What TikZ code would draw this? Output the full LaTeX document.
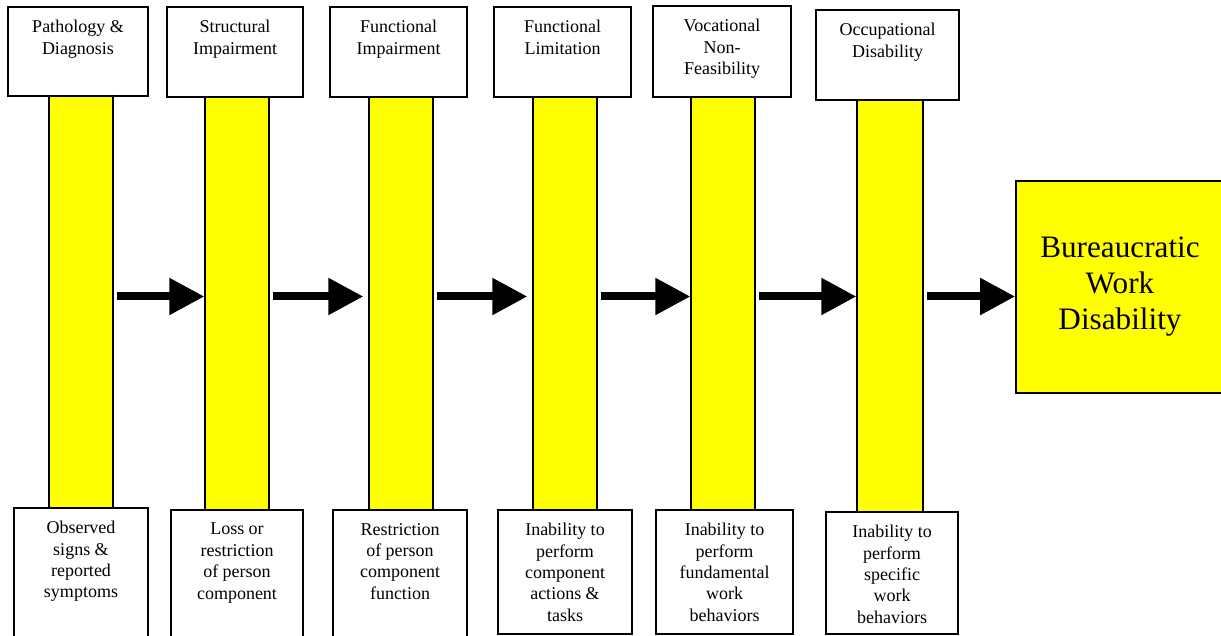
\documentclass[tikz,border=0pt]{standalone}
\usepackage{fontspec}
\setmainfont{Liberation Serif}
\usetikzlibrary{arrows.meta,fit}
\definecolor{stageyellow}{RGB}{255,255,0}
\tikzset{
  box/.style={draw, line width=0.8pt, inner sep=0pt},
  headbox/.style={box, fill=white},
  notebox/.style={box, fill=white},
  stagebar/.style={draw, line width=0.6pt, fill=stageyellow, inner sep=0pt},
  goalbox/.style={box, fill=stageyellow},
  goaltext/.style={anchor=center, inner sep=0pt, align=center,
    font=\fontsize{15.6}{18}\selectfont},
  boxtext/.style={anchor=north, inner sep=0pt, yshift=-6.8pt, align=center,
    font=\fontsize{9}{10.7}\selectfont},
  flow/.style={line width=4pt, -{Triangle[length=17.5pt,width=17.5pt]}}
}
\begin{document}
\begin{tikzpicture}[x=0.5pt,y=-0.5pt]
  \clip (0,0) rectangle (1221,636);

  % yellow stage bars
  \node[stagebar, fit={(49,96) (113,509)}] (bar1) {};
  \node[stagebar, fit={(205,96) (269,510)}] (bar2) {};
  \node[stagebar, fit={(369,96) (433,510)}] (bar3) {};
  \node[stagebar, fit={(533,96) (597,510)}] (bar4) {};
  \node[stagebar, fit={(691,96) (755,510)}] (bar5) {};
  \node[stagebar, fit={(857,99) (923,512)}] (bar6) {};

  % column heads
  \node[headbox, fit={(8,7) (148,96)},
    label={[boxtext]north:Pathology \&\\Diagnosis}] (head1) {};
  \node[headbox, fit={(167,7) (303,97)},
    label={[boxtext]north:Structural\\Impairment}] (head2) {};
  \node[headbox, fit={(330,7) (467,97)},
    label={[boxtext]north:Functional\\Impairment}] (head3) {};
  \node[headbox, fit={(494,7) (631,97)},
    label={[boxtext]north:Functional\\Limitation}] (head4) {};
  \node[headbox, fit={(653,6) (791,97)},
    label={[boxtext]north:Vocational\\Non-\\Feasibility}] (head5) {};
  \node[headbox, fit={(816,10) (959,100)},
    label={[boxtext]north:Occupational\\Disability}] (head6) {};

  % descriptions below the bars
  \node[notebox, fit={(14,508) (148,650)},
    label={[boxtext]north:Observed\\signs \&\\reported\\symptoms}] (note1) {};
  \node[notebox, fit={(171,510) (303,650)},
    label={[boxtext]north:Loss or\\restriction\\of person\\component}] (note2) {};
  \node[notebox, fit={(333,510) (467,650)},
    label={[boxtext]north:Restriction\\of person\\component\\function}] (note3) {};
  \node[notebox, fit={(498,510) (632,634)},
    label={[boxtext]north:Inability to\\perform\\component\\actions \&\\tasks}] (note4) {};
  \node[notebox, fit={(656,510) (793,634)},
    label={[boxtext]north:Inability to\\perform\\fundamental\\work\\behaviors}] (note5) {};
  \node[notebox, fit={(826,512) (958,634)},
    label={[boxtext]north:Inability to\\perform\\specific\\work\\behaviors}] (note6) {};

  % end result
  \node[goalbox, fit={(1016,181) (1224,393)},
    label={[goaltext]center:Bureaucratic\\Work\\Disability}] (goal) {};

  % arrows between the stages
  \coordinate (flowrow) at (0,296.5);
  \foreach \from/\to/\gap in {bar1/bar2/0,bar2/bar3/2.5,bar3/bar4/2.5,
                              bar4/bar5/0,bar5/bar6/0,bar6/goal/0}{
    \draw[flow, shorten <=1.5pt, shorten >=\gap pt]
      (\from.east |- flowrow) -- (\to.west |- flowrow);
  }
\end{tikzpicture}
\end{document}
